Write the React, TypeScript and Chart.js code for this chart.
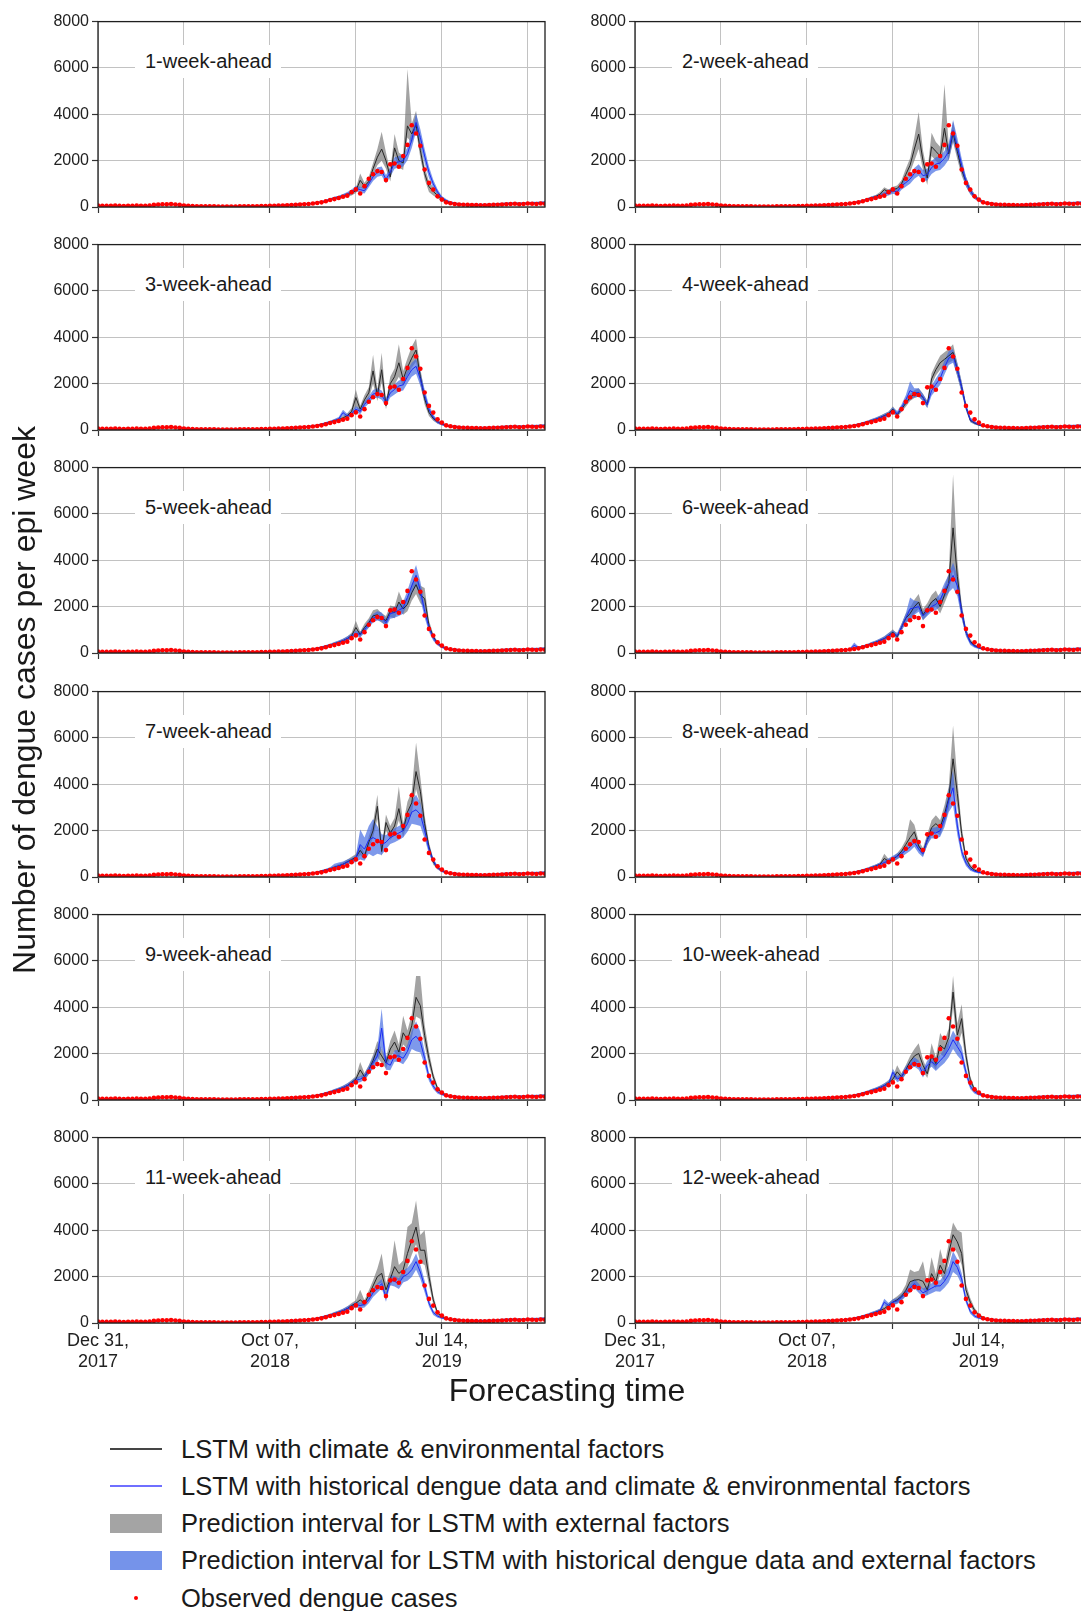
import React, { useEffect, useRef } from 'react';
import { Chart, registerables } from 'chart.js';

Chart.register(...registerables);

const FONT = "'Liberation Sans', Arial, Helvetica, sans-serif";
Chart.defaults.font.family = FONT;

// ---------------- data ----------------
// epi-week index (0 = week of Dec 31, 2017)
const WEEKS: number[] = Array.from({ length: 105 }, (_, i) => i);
const X_TICK_WEEKS = [0, 20, 40, 60, 80, 100];
const X_LABEL_WEEKS = [0, 40, 80];
const X_LABELS = [['Dec 31,', '2017'], ['Oct 07,', '2018'], ['Jul 14,', '2019']];
const Y_TICKS = [0, 2000, 4000, 6000, 8000];

const TITLES = [
  '1-week-ahead', '2-week-ahead', '3-week-ahead', '4-week-ahead', '5-week-ahead', '6-week-ahead',
  '7-week-ahead', '8-week-ahead', '9-week-ahead', '10-week-ahead', '11-week-ahead', '12-week-ahead',
];

const OBS = [
  60, 55, 50, 55, 60, 50, 45, 50, 55, 60,
  55, 50, 60, 90, 110, 120, 115, 125, 110, 90,
  60, 50, 40, 35, 30, 30, 25, 25, 20, 20,
  20, 20, 20, 25, 25, 30, 30, 35, 40, 45,
  50, 55, 60, 65, 75, 85, 95, 110, 120, 130,
  150, 170, 200, 250, 300, 340, 390, 440, 490, 640,
  760, 580, 900, 1220, 1410, 1550, 1510, 1160, 1840, 1880,
  1740, 2200, 2680, 3530, 3170, 2640, 1620, 1040, 750, 460,
  320, 200, 160, 130, 110, 100, 90, 80, 80, 75,
  70, 80, 90, 100, 110, 120, 130, 140, 120, 130,
  150, 140, 130, 150, 140,
];

// weeks 0..47 (shared by all horizons)
const PRE_B = [
  60, 60, 55, 55, 60, 55, 50, 50, 55, 60,
  55, 55, 60, 70, 90, 105, 110, 115, 110, 95,
  75, 60, 50, 45, 40, 35, 35, 30, 30, 30,
  30, 30, 30, 30, 35, 35, 40, 40, 45, 50,
  55, 60, 65, 70, 80, 90, 100, 115,
];
const PRE_L = [
  70, 65, 60, 65, 70, 60, 55, 60, 60, 65,
  60, 60, 65, 75, 95, 110, 115, 120, 115, 100,
  80, 65, 55, 50, 45, 40, 40, 35, 35, 35,
  35, 35, 35, 35, 40, 40, 45, 45, 50, 55,
  60, 65, 70, 75, 85, 95, 105, 120,
];
const PRE_W = [
  25, 25, 25, 25, 25, 25, 25, 25, 25, 25,
  25, 25, 25, 25, 30, 30, 30, 30, 30, 30,
  25, 25, 25, 25, 25, 25, 25, 25, 25, 25,
  25, 25, 25, 25, 25, 25, 25, 25, 25, 30,
  30, 30, 35, 35, 40, 40, 45, 50,
];
// weeks 83..104
const POST_B = [140, 120, 110, 100, 95, 90, 90, 95, 100, 110, 120, 130, 140, 150, 145, 140, 150, 160, 165, 160, 170, 180];
const POST_L = [150, 130, 115, 105, 100, 95, 95, 100, 105, 115, 125, 135, 145, 150, 150, 150, 155, 160, 170, 170, 180, 200];
const POST_W = [50, 45, 40, 40, 40, 40, 40, 40, 40, 40, 45, 45, 45, 50, 50, 50, 50, 50, 55, 55, 55, 60];

// per-horizon, weeks 48..82: black line, gray interval lo/hi, blue line, blue half-width
const P1_B = [130, 140, 160, 180, 210, 260, 320, 370, 420, 470, 520, 600, 700, 1150, 900, 1100, 1650, 2150, 2500, 2000, 1300, 2550, 2000, 1900, 3500, 3150, 3550, 2450, 1450, 880, 670, 500, 330, 230, 170];
const P1_BLO = [110, 120, 140, 160, 180, 220, 270, 320, 360, 400, 440, 500, 600, 850, 750, 950, 1400, 1800, 2000, 1650, 1100, 2200, 1700, 1600, 3000, 2750, 3300, 2100, 1200, 650, 500, 380, 250, 170, 130];
const P1_BHI = [150, 160, 180, 210, 240, 300, 370, 430, 490, 550, 600, 700, 820, 1450, 1050, 1300, 1900, 2500, 3250, 2350, 1550, 3150, 2350, 2200, 5950, 3600, 4150, 2850, 1750, 1100, 850, 650, 430, 300, 220];
const P1_L = [130, 140, 160, 190, 220, 270, 330, 380, 420, 480, 560, 650, 800, 750, 700, 1000, 1300, 1500, 1550, 1200, 1500, 1900, 1950, 2000, 2300, 2900, 3650, 3000, 2200, 1500, 1000, 650, 400, 280, 200];
const P1_LW = [30, 30, 30, 35, 40, 45, 50, 60, 70, 80, 90, 100, 120, 120, 120, 150, 180, 200, 200, 180, 200, 250, 250, 250, 280, 350, 400, 350, 300, 250, 180, 120, 80, 60, 50];

const P2_B = [130, 140, 160, 190, 220, 270, 330, 390, 450, 550, 750, 650, 750, 800, 1000, 1400, 1800, 2500, 3150, 2000, 1250, 2600, 2400, 2200, 3400, 2300, 3200, 2400, 1600, 1100, 700, 450, 300, 220, 170];
const P2_BLO = [110, 120, 140, 160, 190, 230, 280, 330, 380, 450, 600, 550, 640, 680, 850, 1150, 1500, 2000, 2500, 1600, 950, 2200, 2000, 1800, 2600, 2000, 2800, 2050, 1350, 900, 560, 360, 240, 170, 130];
const P2_BHI = [150, 160, 180, 220, 260, 310, 380, 450, 520, 650, 850, 760, 870, 930, 1150, 1650, 2100, 3000, 4100, 2450, 1500, 3200, 2800, 2600, 5300, 2650, 3700, 2750, 1900, 1300, 850, 560, 370, 280, 210];
const P2_L = [130, 140, 160, 190, 220, 260, 320, 380, 430, 480, 550, 620, 700, 650, 900, 1050, 1200, 1450, 1600, 1350, 1400, 1700, 1850, 1900, 2100, 2400, 3300, 2600, 1800, 1100, 700, 450, 300, 220, 170];
const P2_LW = [30, 30, 35, 40, 45, 50, 60, 70, 80, 90, 100, 120, 130, 140, 160, 180, 200, 230, 250, 250, 250, 280, 300, 300, 320, 350, 450, 380, 300, 220, 150, 100, 70, 50, 40];

const P3_B = [130, 150, 170, 200, 240, 290, 340, 400, 450, 520, 620, 800, 1400, 900, 1300, 1600, 2550, 1500, 2600, 1050, 2000, 2300, 2900, 2200, 2700, 3100, 3450, 2300, 1350, 760, 500, 350, 260, 200, 160];
const P3_BLO = [110, 130, 150, 170, 200, 250, 290, 340, 380, 440, 520, 650, 1000, 750, 1100, 1350, 2000, 1250, 2050, 900, 1700, 1950, 2300, 1900, 2350, 2700, 2950, 1950, 1100, 600, 400, 280, 200, 160, 120];
const P3_BHI = [150, 170, 190, 230, 280, 330, 390, 460, 520, 600, 720, 950, 1750, 1050, 1500, 1850, 3250, 1750, 3330, 1250, 2300, 2650, 3700, 2550, 3100, 3600, 3950, 2650, 1600, 920, 620, 430, 320, 250, 200];
const P3_L = [130, 150, 170, 200, 240, 290, 340, 400, 480, 750, 600, 700, 900, 800, 1100, 1300, 1550, 1600, 1500, 1200, 1600, 1750, 1900, 1950, 2300, 2600, 2750, 2200, 1500, 900, 550, 350, 250, 200, 160];
const P3_LW = [30, 35, 40, 45, 50, 55, 60, 70, 80, 120, 100, 110, 120, 120, 140, 160, 180, 200, 200, 180, 200, 220, 240, 250, 280, 300, 320, 300, 250, 180, 120, 80, 60, 50, 40];

const P4_B = [130, 150, 170, 200, 240, 290, 340, 400, 460, 530, 620, 700, 900, 660, 900, 1150, 1400, 1550, 1620, 1400, 1100, 2200, 2600, 2900, 3050, 3200, 3350, 2600, 1850, 1000, 420, 300, 220, 180, 150];
const P4_BLO = [110, 130, 150, 170, 200, 250, 290, 340, 390, 450, 530, 600, 780, 560, 780, 1000, 1250, 1380, 1450, 1250, 950, 1950, 2350, 2600, 2750, 2900, 3000, 2300, 1600, 850, 340, 240, 180, 140, 120];
const P4_BHI = [150, 170, 190, 230, 280, 330, 390, 460, 530, 610, 710, 800, 1020, 760, 1020, 1300, 1550, 1720, 1800, 1560, 1250, 2450, 2850, 3200, 3350, 3500, 3700, 2900, 2100, 1150, 500, 360, 270, 220, 180];
const P4_L = [130, 150, 170, 200, 240, 290, 340, 400, 460, 530, 600, 680, 850, 700, 950, 1300, 1700, 1600, 1620, 1400, 1100, 1700, 1970, 2230, 2700, 3100, 3200, 2600, 1850, 1000, 450, 320, 230, 180, 150];
const P4_LW = [30, 35, 40, 45, 50, 55, 60, 70, 80, 90, 100, 110, 130, 120, 150, 200, 400, 200, 180, 150, 150, 220, 250, 280, 300, 300, 300, 280, 220, 150, 100, 70, 50, 40, 35];

const P5_B = [130, 150, 170, 200, 240, 290, 340, 400, 460, 530, 620, 750, 1100, 800, 1100, 1300, 1600, 1650, 1500, 1400, 1800, 1750, 2200, 1900, 2100, 2600, 2950, 2500, 2350, 1200, 700, 420, 280, 200, 160];
const P5_BLO = [110, 130, 150, 170, 200, 250, 290, 340, 390, 450, 530, 640, 900, 680, 950, 1100, 1400, 1450, 1300, 1200, 1550, 1500, 1900, 1650, 1800, 2250, 2550, 2150, 1950, 1000, 580, 350, 230, 170, 130];
const P5_BHI = [150, 170, 190, 230, 280, 330, 390, 460, 530, 610, 710, 870, 1390, 920, 1260, 1500, 1850, 1900, 1720, 1600, 2050, 2000, 2650, 2200, 2400, 2950, 3400, 2900, 2800, 1400, 820, 500, 330, 240, 190];
const P5_L = [130, 150, 170, 200, 240, 290, 340, 400, 460, 530, 620, 720, 850, 800, 1000, 1250, 1500, 1600, 1550, 1300, 1700, 1750, 1850, 1950, 2400, 2900, 3350, 2700, 1800, 1100, 650, 400, 270, 200, 160];
const P5_LW = [30, 35, 40, 45, 50, 55, 60, 70, 80, 90, 100, 110, 120, 120, 140, 160, 180, 200, 200, 180, 220, 230, 250, 260, 300, 380, 450, 380, 280, 180, 120, 80, 60, 50, 40];

const P6_B = [130, 140, 160, 190, 230, 280, 330, 400, 460, 540, 620, 750, 900, 700, 1100, 1500, 1700, 2000, 2200, 1650, 1900, 2200, 2350, 2000, 2500, 3000, 5400, 3300, 1800, 900, 500, 320, 230, 180, 150];
const P6_BLO = [110, 120, 140, 160, 190, 240, 280, 340, 390, 460, 530, 640, 770, 600, 950, 1300, 1450, 1700, 1900, 1400, 1650, 1900, 2000, 1700, 2150, 2600, 3600, 2700, 1500, 750, 400, 260, 180, 140, 120];
const P6_BHI = [150, 160, 180, 220, 270, 320, 380, 460, 530, 620, 710, 860, 1030, 800, 1250, 1700, 1950, 2300, 2550, 1900, 2150, 2500, 2700, 2300, 2850, 3450, 7700, 4000, 2100, 1050, 600, 380, 280, 220, 180];
const P6_L = [130, 140, 160, 330, 230, 280, 330, 400, 460, 540, 620, 750, 850, 750, 1100, 1500, 1900, 1950, 2000, 1600, 1800, 2000, 2100, 2300, 2700, 3000, 3350, 2900, 1800, 900, 450, 300, 220, 180, 150];
const P6_LW = [30, 35, 40, 120, 50, 55, 60, 70, 80, 90, 100, 110, 120, 120, 160, 200, 500, 300, 220, 180, 200, 220, 250, 280, 320, 380, 550, 450, 300, 180, 100, 70, 50, 40, 35];

const P7_B = [130, 150, 170, 200, 250, 300, 350, 420, 480, 550, 650, 750, 850, 1150, 900, 1500, 2000, 3050, 1100, 2350, 1900, 2200, 2950, 2000, 2800, 3200, 4550, 3700, 2300, 1300, 650, 400, 280, 200, 160];
const P7_BLO = [110, 130, 150, 170, 210, 250, 290, 350, 400, 460, 550, 640, 720, 950, 760, 1250, 1700, 2500, 900, 2000, 1600, 1850, 2450, 1700, 2400, 2750, 3800, 3100, 1950, 1100, 530, 330, 230, 160, 130];
const P7_BHI = [150, 170, 190, 230, 290, 350, 410, 490, 560, 640, 760, 870, 990, 1400, 1050, 1750, 2350, 3550, 1300, 2700, 2200, 2550, 3900, 2300, 3250, 3700, 5800, 4300, 2650, 1500, 780, 480, 330, 240, 190];
const P7_L = [130, 150, 170, 200, 250, 300, 350, 420, 480, 550, 650, 700, 800, 1400, 1200, 1600, 1700, 1600, 1400, 1500, 1700, 1800, 1900, 2000, 2300, 2800, 2900, 2700, 2000, 1200, 700, 400, 270, 200, 160];
const P7_LW = [30, 35, 40, 45, 50, 60, 70, 150, 150, 120, 110, 120, 150, 650, 500, 600, 800, 600, 450, 300, 280, 300, 300, 300, 350, 500, 650, 500, 350, 200, 120, 80, 60, 50, 40];

const P8_B = [130, 150, 170, 200, 240, 290, 340, 400, 470, 550, 800, 680, 750, 900, 1100, 1400, 1700, 1950, 1340, 1075, 1600, 2130, 2300, 2130, 2700, 3400, 5100, 3600, 1870, 810, 450, 300, 220, 180, 150];
const P8_BLO = [110, 130, 150, 170, 200, 250, 290, 340, 400, 470, 600, 580, 640, 770, 940, 1200, 1450, 1650, 1150, 900, 1350, 1800, 1950, 1800, 2300, 2900, 4000, 3000, 1550, 650, 360, 240, 180, 140, 120];
const P8_BHI = [150, 170, 190, 230, 280, 330, 390, 460, 540, 630, 1000, 780, 860, 1030, 1260, 1600, 2490, 2250, 1550, 1250, 1850, 2450, 2660, 2450, 3100, 3900, 6540, 4200, 2200, 970, 550, 370, 270, 220, 180];
const P8_L = [130, 150, 170, 200, 240, 290, 340, 400, 460, 540, 620, 700, 800, 900, 1000, 1150, 1300, 1500, 1200, 1000, 1600, 1900, 1900, 2000, 2500, 3300, 3850, 2200, 1100, 600, 350, 250, 200, 170, 150];
const P8_LW = [30, 35, 40, 45, 50, 55, 60, 70, 80, 90, 100, 110, 120, 130, 140, 160, 180, 200, 180, 150, 200, 230, 250, 260, 350, 500, 750, 400, 200, 120, 80, 60, 50, 40, 35];

const P9_B = [130, 150, 170, 200, 240, 290, 340, 400, 460, 530, 620, 750, 900, 1300, 1000, 1300, 1700, 2200, 1900, 1600, 2200, 2500, 2070, 2900, 2600, 3200, 4430, 4070, 2790, 1790, 1000, 500, 300, 220, 170];
const P9_BLO = [110, 130, 150, 170, 200, 250, 290, 340, 390, 450, 530, 640, 770, 1000, 850, 1100, 1450, 1850, 1600, 1350, 1850, 2100, 1750, 2400, 2200, 2700, 3600, 3500, 2350, 1500, 820, 410, 250, 180, 140];
const P9_BHI = [150, 170, 190, 230, 280, 330, 390, 460, 530, 610, 710, 860, 1030, 1640, 1150, 1500, 1950, 2550, 2200, 1850, 2550, 3000, 2400, 3640, 3000, 3700, 5350, 5350, 3250, 2100, 1180, 600, 360, 260, 200];
const P9_L = [130, 150, 170, 200, 240, 290, 340, 400, 460, 530, 620, 720, 850, 900, 1000, 1300, 1600, 1900, 3100, 1600, 1500, 1900, 1900, 1800, 2100, 2600, 2750, 2500, 1800, 1000, 600, 350, 250, 200, 160];
const P9_LW = [30, 35, 40, 45, 50, 55, 60, 70, 80, 90, 100, 110, 120, 130, 140, 180, 250, 350, 850, 300, 220, 250, 260, 260, 300, 400, 650, 450, 300, 180, 120, 80, 60, 50, 40];

const P10_B = [130, 150, 170, 200, 240, 290, 340, 400, 460, 530, 620, 750, 900, 1217, 1000, 1300, 1658, 1900, 2010, 1500, 1130, 1922, 1570, 2363, 2200, 2700, 4656, 2800, 3510, 1922, 864, 450, 300, 220, 170];
const P10_BLO = [110, 130, 150, 170, 200, 250, 290, 340, 390, 450, 530, 640, 770, 950, 850, 1100, 1400, 1600, 1650, 1250, 950, 1600, 1300, 2000, 1850, 2300, 4000, 2300, 2900, 1600, 700, 360, 240, 180, 140];
const P10_BHI = [150, 170, 190, 230, 280, 330, 390, 460, 530, 610, 710, 860, 1030, 1500, 1150, 1500, 1900, 2200, 2450, 1750, 1300, 2450, 1850, 2890, 2550, 3100, 5360, 3300, 4130, 2250, 1020, 540, 360, 260, 200];
const P10_L = [130, 150, 170, 200, 240, 290, 340, 400, 460, 530, 620, 700, 1200, 900, 1000, 1300, 1500, 1650, 1500, 1150, 1500, 1650, 1500, 1700, 1900, 2200, 2600, 2300, 2000, 1200, 600, 350, 250, 200, 170];
const P10_LW = [30, 35, 40, 45, 50, 55, 60, 70, 80, 90, 100, 110, 150, 130, 140, 160, 180, 200, 200, 180, 200, 220, 250, 260, 300, 350, 400, 380, 300, 200, 120, 80, 60, 50, 40];

const P11_B = [130, 150, 170, 200, 240, 290, 340, 400, 460, 530, 620, 750, 850, 1000, 850, 1200, 1600, 2000, 2140, 1430, 1900, 2430, 2140, 2290, 3000, 3570, 4140, 3140, 3140, 2000, 1000, 430, 280, 200, 160];
const P11_BLO = [110, 130, 150, 170, 200, 250, 290, 340, 390, 450, 530, 640, 720, 800, 720, 1000, 1350, 1650, 1750, 1200, 1600, 2000, 1800, 1900, 2400, 2950, 3400, 2600, 2500, 1650, 800, 350, 230, 160, 130];
const P11_BHI = [150, 170, 190, 230, 280, 330, 390, 460, 530, 610, 710, 860, 980, 1430, 980, 1400, 1850, 2350, 3000, 1700, 2250, 3570, 2500, 2700, 4140, 4300, 5290, 3800, 4000, 2400, 1200, 520, 330, 240, 190];
const P11_L = [130, 150, 170, 200, 240, 290, 340, 400, 460, 530, 620, 700, 800, 750, 800, 1000, 1300, 1500, 1700, 1100, 1850, 1800, 1700, 2000, 2100, 2300, 2650, 2200, 1570, 860, 450, 300, 220, 180, 150];
const P11_LW = [30, 35, 40, 45, 50, 55, 60, 70, 80, 90, 100, 110, 120, 120, 130, 150, 180, 200, 200, 180, 220, 230, 230, 250, 280, 320, 350, 300, 250, 150, 100, 70, 50, 40, 35];

const P12_B = [130, 150, 170, 200, 240, 290, 340, 400, 460, 530, 620, 750, 900, 1000, 1150, 1400, 1780, 1850, 1870, 1800, 1430, 2130, 1780, 2490, 2130, 3020, 3810, 3500, 3000, 1430, 900, 550, 330, 230, 170];
const P12_BLO = [110, 130, 150, 170, 200, 250, 290, 340, 390, 450, 530, 640, 770, 850, 980, 1200, 1500, 1550, 1600, 1450, 1200, 1800, 1500, 2100, 1800, 2600, 3300, 3000, 2500, 1200, 720, 440, 270, 190, 140];
const P12_BHI = [150, 170, 190, 230, 280, 330, 390, 460, 530, 610, 710, 860, 1030, 1150, 1320, 1650, 2310, 2200, 2250, 2660, 1700, 2840, 2100, 3190, 2500, 3450, 4340, 4000, 3900, 1700, 1080, 660, 400, 270, 200];
const P12_L = [130, 150, 170, 200, 240, 290, 340, 400, 460, 530, 900, 750, 900, 950, 1100, 1300, 1500, 1700, 1500, 1300, 1400, 1500, 1600, 1600, 1800, 2100, 2650, 2400, 1900, 1000, 500, 300, 220, 180, 150];
const P12_LW = [30, 35, 40, 45, 50, 55, 60, 70, 80, 90, 150, 110, 120, 130, 140, 160, 180, 200, 200, 180, 200, 220, 230, 250, 280, 350, 450, 350, 250, 150, 100, 70, 50, 40, 35];

const PANELS = [
  { b: P1_B, blo: P1_BLO, bhi: P1_BHI, l: P1_L, lw: P1_LW },
  { b: P2_B, blo: P2_BLO, bhi: P2_BHI, l: P2_L, lw: P2_LW },
  { b: P3_B, blo: P3_BLO, bhi: P3_BHI, l: P3_L, lw: P3_LW },
  { b: P4_B, blo: P4_BLO, bhi: P4_BHI, l: P4_L, lw: P4_LW },
  { b: P5_B, blo: P5_BLO, bhi: P5_BHI, l: P5_L, lw: P5_LW },
  { b: P6_B, blo: P6_BLO, bhi: P6_BHI, l: P6_L, lw: P6_LW },
  { b: P7_B, blo: P7_BLO, bhi: P7_BHI, l: P7_L, lw: P7_LW },
  { b: P8_B, blo: P8_BLO, bhi: P8_BHI, l: P8_L, lw: P8_LW },
  { b: P9_B, blo: P9_BLO, bhi: P9_BHI, l: P9_L, lw: P9_LW },
  { b: P10_B, blo: P10_BLO, bhi: P10_BHI, l: P10_L, lw: P10_LW },
  { b: P11_B, blo: P11_BLO, bhi: P11_BHI, l: P11_L, lw: P11_LW },
  { b: P12_B, blo: P12_BLO, bhi: P12_BHI, l: P12_L, lw: P12_LW },
];

const LEGEND_ITEMS = [
  { kind: 'line', color: '#454545', label: 'LSTM with climate & environmental factors' },
  { kind: 'line', color: '#6f6fff', label: 'LSTM with historical dengue data and climate & environmental factors' },
  { kind: 'patch', color: '#a4a4a4', label: 'Prediction interval for LSTM with external factors' },
  { kind: 'patch', color: '#7593ea', label: 'Prediction interval for LSTM with historical dengue data and external factors' },
  { kind: 'dot', color: '#ff0000', label: 'Observed dengue cases' },
];
const LEGEND_Y = [1449, 1486, 1523, 1560, 1598];

// ---------------- styling / layout ----------------
const GRAY_FILL = 'rgba(120,120,120,0.68)';
const BLUE_FILL = 'rgba(65,105,225,0.68)';
const BLACK_LINE = '#262626';
const BLUE_LINE = '#1c2cf5';
const GRID = '#c2c2c2';

const COL_LEFT = [98, 635];
const ROW_TOP0 = 21;
const ROW_STEP = 223.2;
const PLOT_W = 447;
const PLOT_H = 186;
const AXIS_W = 60;
const AXIS_H = 56;
const PAD_TOP = 12;
const PAD_RIGHT = 8;
const CANVAS_W = AXIS_W + PLOT_W + PAD_RIGHT;
const CANVAS_H = PAD_TOP + PLOT_H + AXIS_H;

function pts(arr: number[]) {
  return arr.map((y, i) => ({ x: WEEKS[i], y }));
}

function seriesFor(p: any) {
  const black = [...PRE_B, ...p.b, ...POST_B];
  const grayLo = [...PRE_B.map((v, i) => v - PRE_W[i]), ...p.blo, ...POST_B.map((v, i) => v - POST_W[i])];
  const grayHi = [...PRE_B.map((v, i) => v + PRE_W[i]), ...p.bhi, ...POST_B.map((v, i) => v + POST_W[i])];
  const blue = [...PRE_L, ...p.l, ...POST_L];
  const blueLo = [...PRE_L.map((v, i) => v - PRE_W[i]), ...p.l.map((v: number, i: number) => v - p.lw[i]), ...POST_L.map((v, i) => v - POST_W[i])];
  const blueHi = [...PRE_L.map((v, i) => v + PRE_W[i]), ...p.l.map((v: number, i: number) => v + p.lw[i]), ...POST_L.map((v, i) => v + POST_W[i])];
  return { black, grayLo, grayHi, blue, blueLo, blueHi };
}

const framePlugin = {
  id: 'frame',
  afterDraw(chart: any) {
    const { ctx, chartArea } = chart;
    ctx.save();
    ctx.strokeStyle = '#1e1e1e';
    ctx.lineWidth = 1.3;
    ctx.strokeRect(chartArea.left, chartArea.top, chartArea.right - chartArea.left, chartArea.bottom - chartArea.top);
    ctx.restore();
  },
};

function Panel({ index }: { index: number }) {
  const ref = useRef<HTMLCanvasElement>(null);
  const col = index % 2;
  const row = Math.floor(index / 2);
  const plotTop = Math.round(ROW_TOP0 + ROW_STEP * row);
  const left = COL_LEFT[col] - AXIS_W;
  const top = plotTop - PAD_TOP;
  const bottomRow = row === 5;

  useEffect(() => {
    const s = seriesFor(PANELS[index]);
    const line = (data: number[], extra: any) => ({
      data: pts(data), pointRadius: 0, tension: 0, ...extra,
    });
    const chart = new Chart(ref.current as HTMLCanvasElement, {
      type: 'line',
      data: {
        datasets: [
          line(s.grayLo, { borderColor: 'rgba(0,0,0,0)', borderWidth: 0.01, fill: false, order: 6 }),
          line(s.grayHi, { borderColor: 'rgba(0,0,0,0)', borderWidth: 0.01, fill: { target: 0 }, backgroundColor: GRAY_FILL, order: 5 }),
          line(s.blueLo, { borderColor: 'rgba(0,0,0,0)', borderWidth: 0.01, fill: false, order: 4 }),
          line(s.blueHi, { borderColor: 'rgba(0,0,0,0)', borderWidth: 0.01, fill: { target: 2 }, backgroundColor: BLUE_FILL, order: 3 }),
          line(s.black, { borderColor: BLACK_LINE, borderWidth: 1, fill: false, order: 2 }),
          line(s.blue, { borderColor: BLUE_LINE, borderWidth: 1, fill: false, order: 1 }),
          {
            data: pts(OBS), showLine: false, pointRadius: 2.3, pointBorderWidth: 0,
            pointBackgroundColor: '#ff0000', pointBorderColor: '#ff0000', order: 0,
          },
        ],
      },
      options: {
        animation: false,
        responsive: false,
        devicePixelRatio: 1,
        events: [],
        layout: { padding: { top: PAD_TOP, right: PAD_RIGHT, left: 0, bottom: 0 } },
        plugins: { legend: { display: false }, tooltip: { enabled: false }, title: { display: false } },
        scales: {
          x: {
            type: 'linear', min: 0, max: 104,
            afterFit: (sc: any) => { sc.height = AXIS_H; },
            afterBuildTicks: (ax: any) => { ax.ticks = X_TICK_WEEKS.map((v) => ({ value: v })); },
            grid: { color: GRID, lineWidth: 1, drawTicks: true, tickLength: 6, tickColor: '#333', tickWidth: 1.2 },
            border: { display: false },
            ticks: {
              autoSkip: false, maxRotation: 0, minRotation: 0, padding: 2, color: '#222',
              font: { family: FONT, size: 18, lineHeight: 1.15 },
              callback: (v: any) => {
                if (!bottomRow) return '';
                const k = X_LABEL_WEEKS.indexOf(Number(v));
                return k >= 0 ? X_LABELS[k] : '';
              },
            },
          },
          y: {
            type: 'linear', min: 0, max: 8000,
            afterFit: (sc: any) => { sc.width = AXIS_W; },
            afterBuildTicks: (ax: any) => { ax.ticks = Y_TICKS.map((v) => ({ value: v })); },
            grid: { color: GRID, lineWidth: 1, drawTicks: true, tickLength: 6, tickColor: '#333', tickWidth: 1.2 },
            border: { display: false },
            ticks: { color: '#222', padding: 3, font: { family: FONT, size: 16 }, callback: (v: any) => String(v) },
          },
        },
      },
      plugins: [framePlugin],
    } as any);
    return () => chart.destroy();
  }, [index]);

  return (
    <>
      <canvas
        ref={ref}
        width={CANVAS_W}
        height={CANVAS_H}
        style={{ position: 'absolute', left, top, width: CANVAS_W, height: CANVAS_H }}
      />
      <div
        style={{
          position: 'absolute', left: COL_LEFT[col] + 37, top: plotTop + 24, height: 33, lineHeight: '33px',
          padding: '0 9px 0 10px', background: '#fff', fontSize: 20, color: '#1a1a1a', whiteSpace: 'nowrap',
        }}
      >
        {TITLES[index]}
      </div>
    </>
  );
}

export default function App() {
  return (
    <div
      style={{
        position: 'absolute', left: 0, top: 0, width: 1081, height: 1611, overflow: 'hidden',
        background: '#fff', fontFamily: FONT, color: '#1a1a1a',
      }}
    >
      {PANELS.map((_, i) => <Panel key={i} index={i} />)}
      <div
        style={{
          position: 'absolute', left: 24 - 300, top: 700 - 20, width: 600, height: 40, lineHeight: '40px',
          fontSize: 32, textAlign: 'center', transform: 'rotate(-90deg)', whiteSpace: 'nowrap',
        }}
      >
        Number of dengue cases per epi week
      </div>
      <div
        style={{
          position: 'absolute', left: 567 - 200, top: 1370, width: 400, height: 40, lineHeight: '40px',
          fontSize: 32, textAlign: 'center', whiteSpace: 'nowrap',
        }}
      >
        Forecasting time
      </div>
      {LEGEND_ITEMS.map((it, i) => {
        const cy = LEGEND_Y[i];
        return (
          <React.Fragment key={i}>
            {it.kind === 'line' && (
              <div style={{ position: 'absolute', left: 110, top: cy - 0.75, width: 52, height: 1.5, background: it.color }} />
            )}
            {it.kind === 'patch' && (
              <div style={{ position: 'absolute', left: 110, top: cy - 9.5, width: 52, height: 19, background: it.color }} />
            )}
            {it.kind === 'dot' && (
              <div style={{ position: 'absolute', left: 134, top: cy - 2, width: 4, height: 4, borderRadius: 2, background: it.color }} />
            )}
            <div
              style={{
                position: 'absolute', left: 181, top: cy - 18, height: 36, lineHeight: '36px', fontSize: 25.5,
                whiteSpace: 'nowrap',
              }}
            >
              {it.label}
            </div>
          </React.Fragment>
        );
      })}
    </div>
  );
}
